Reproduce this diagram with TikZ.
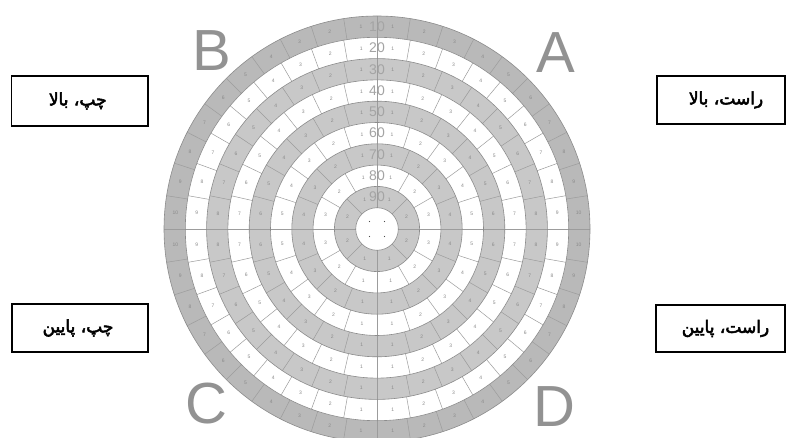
\documentclass[tikz,border=0pt]{standalone}
\usepackage{fontspec}
\setmainfont{Liberation Sans}
\newfontfamily\arabicfont[Script=Arabic,FakeBold=3]{DejaVu Sans}
\TeXXeTstate=1
\definecolor{ringdark}{HTML}{B9B9B9}
\definecolor{ringgray}{HTML}{C8C8C8}
\definecolor{segcol}{HTML}{9C9C9C}
\definecolor{numcol}{HTML}{8A8A8A}
\definecolor{labcol}{HTML}{A4A4A4}
\definecolor{letcol}{HTML}{929292}
\tikzset{
  segline/.style={draw=segcol, line width=0.5pt},
  ringline/.style={draw=segcol!90!black, line width=0.6pt},
  segnum/.style={text=numcol, font=\fontsize{5}{5}\selectfont, inner sep=0pt},
  ringlab/.style={text=labcol, font=\fontsize{14}{14}\selectfont, inner sep=0pt},
  letter/.style={text=letcol, font=\fontsize{58}{58}\selectfont, inner sep=0pt},
  pbox/.style={draw=black, line width=1.5pt, fill=white, font=\arabicfont\fontsize{17}{19}\selectfont, align=center, inner sep=0pt}
}
\begin{document}
\begin{tikzpicture}[x=1pt,y=1pt]
\clip (0,0) rectangle (786,-438);
\fill[white] (0,0) rectangle (786,-438);
\begin{scope}[shift={(377,-229)}]
  % ring fills
  \foreach \k/\col in {0/ringdark,1/white,2/ringgray,3/white,4/ringgray,5/white,6/ringgray,7/white,8/ringgray,9/white} {
    \pgfmathsetmacro\rr{(10-\k)*21.3}
    \fill[\col] (0,0) circle [radius=\rr pt];
  }
  % segment lines
  \foreach \k in {1,...,9} {
    \pgfmathtruncatemacro\n{44-4*\k}
    \pgfmathsetmacro\ri{(10-\k)*21.3}
    \pgfmathsetmacro\ro{(11-\k)*21.3}
    \foreach \j in {1,...,\n} {
      \pgfmathsetmacro\ang{\j*360/\n}
      \draw[segline] (\ang:\ri) -- (\ang:\ro);
    }
  }
  % ring boundaries
  \foreach \k in {1,...,10} {
    \pgfmathsetmacro\rr{\k*21.3}
    \draw[ringline] (0,0) circle [radius=\rr pt];
  }
  % segment numbers
  \foreach \k in {1,...,9} {
    \pgfmathtruncatemacro\q{11-\k}
    \pgfmathsetmacro\rm{(10.5-\k)*21.3}
    \foreach \i in {1,...,\q} {
      \pgfmathsetmacro\t{(\i-0.5)*90/\q}
      \foreach \s in {1,-1} {
        \node[segnum] at ({90+\s*\t}:\rm) {\i};
        \node[segnum] at ({270+\s*\t}:\rm) {\i};
      }
    }
  }
  % ring labels
  \foreach \k in {1,...,9} {
    \pgfmathsetmacro\rm{(10.5-\k)*21.3}
    \pgfmathtruncatemacro\lab{10*\k}
    \node[ringlab] at (90:\rm) {\lab};
  }
  % center dots
  \foreach \dx/\dy in {-7.5/7.5,7.5/7.5,-7.5/-7.5,7.5/-7.5}
    \fill[black!70] (\dx,\dy) circle [radius=0.6pt];
\end{scope}
% corner letters
\node[letter] (B) at (212,-51) {B};
\node[letter] (A) at (556,-53) {A};
\node[letter] (C) at (206,-404) {C};
\node[letter] (D) at (554,-407) {D};
% boxes
\node[pbox, minimum width=136.5pt, minimum height=50pt] (tl) at (79.75,-101) {\beginR چپ، بالا\endR\hspace*{4pt}};
\node[pbox, minimum width=128pt, minimum height=48pt] (tr) at (721,-100) {\hspace*{10pt}\beginR راست، بالا\endR};
\node[pbox, minimum width=136pt, minimum height=48pt] (bl) at (80,-328) {\beginR چپ، پایین\endR\hspace*{4pt}};
\node[pbox, minimum width=129pt, minimum height=47pt] (br) at (720.5,-328.5) {\hspace*{10pt}\beginR راست، پایین\endR};
\end{tikzpicture}
\end{document}
